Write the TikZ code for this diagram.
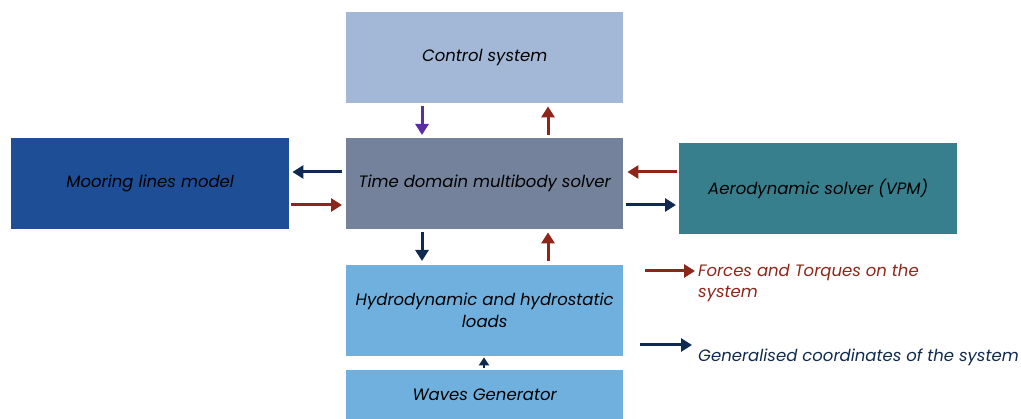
\documentclass[tikz,border=0pt]{standalone}
\usepackage{fontspec}
\setmainfont{Poppins}
\usetikzlibrary{arrows.meta}
\definecolor{ctrlc}{HTML}{A3B8D6}
\definecolor{solverc}{HTML}{74839B}
\definecolor{moorc}{HTML}{1D4E96}
\definecolor{aeroc}{HTML}{377F8C}
\definecolor{hydroc}{HTML}{6FB0DF}
\definecolor{redc}{HTML}{8E2518}
\definecolor{navyc}{HTML}{0F2A50}
\definecolor{purpc}{HTML}{5A2DA0}
\begin{document}
\begin{tikzpicture}[x=1pt,y=-1pt,
  blk/.style={inner sep=0pt, minimum width=277pt, minimum height=91pt, align=center,
    font=\itshape\fontsize{16.5}{22}\selectfont, text=black},
  arr/.style={line width=3pt, -{Triangle[length=11pt,width=13pt]}},
  legtext/.style={anchor=north west, align=left, inner sep=0pt, font=\itshape\fontsize{16.5}{21}\selectfont}]
\useasboundingbox (0,0) rectangle (1021,419);
% blocks
\node[blk, fill=ctrlc, anchor=north west] (ctrl) at (346,12) {Control system};
\node[blk, fill=solverc, anchor=north west] (solver) at (346,138) {Time domain multibody solver};
\node[blk, fill=moorc, anchor=north west, minimum width=278pt] (moor) at (11,138) {Mooring lines model};
\node[blk, fill=aeroc, anchor=north west, minimum width=278pt] (aero) at (679,143) {Aerodynamic solver (VPM)};
\node[blk, fill=hydroc, anchor=north west] (hydro) at (346,265) {Hydrodynamic and hydrostatic\\loads};
\node[blk, fill=hydroc, anchor=north west, minimum height=49pt] (waves) at (346,370) {Waves Generator};
% control <-> solver
\draw[arr, purpc] ([yshift=-3pt]ctrl.south -| 422,0) -- ([yshift=3pt]solver.north -| 422,0);
\draw[arr, redc] ([yshift=3pt]solver.north -| 548,0) -- ([yshift=-3pt]ctrl.south -| 548,0);
% mooring <-> solver
\draw[arr, navyc] ([xshift=-4pt]solver.west |- 0,172) -- ([xshift=3pt]moor.east |- 0,172);
\draw[arr, redc] ([xshift=2pt]moor.east |- 0,205) -- ([xshift=-4pt]solver.west |- 0,205);
% aero <-> solver
\draw[arr, redc] ([xshift=-2pt]aero.west |- 0,172) -- ([xshift=4pt]solver.east |- 0,172);
\draw[arr, navyc] ([xshift=3pt]solver.east |- 0,205) -- ([xshift=-3pt]aero.west |- 0,205);
% solver <-> hydro
\draw[arr, navyc] ([yshift=-3pt]solver.south -| 422,0) -- ([yshift=4pt]hydro.north -| 422,0);
\draw[arr, redc] ([yshift=4pt]hydro.north -| 548,0) -- ([yshift=-3pt]solver.south -| 548,0);
% waves -> hydro
\draw[navyc, line width=2.5pt, -{Triangle[length=8pt,width=10pt]}] ([yshift=2pt]waves.north -| 484,0) -- ([yshift=-1pt]hydro.south -| 484,0);
% legend
\coordinate (l1a) at (645,271);
\coordinate (l1b) at (695,271);
\coordinate (l2a) at (640,345);
\coordinate (l2b) at (692,345);
\draw[arr, redc] (l1a) -- (l1b);
\draw[arr, navyc] (l2a) -- (l2b);
\node[legtext, text=redc] (leg1) at (698,264) {Forces and Torques on the\\system};
\node[legtext, text=navyc] (leg2) at (698,349) {Generalised coordinates of the system};
\end{tikzpicture}
\end{document}
